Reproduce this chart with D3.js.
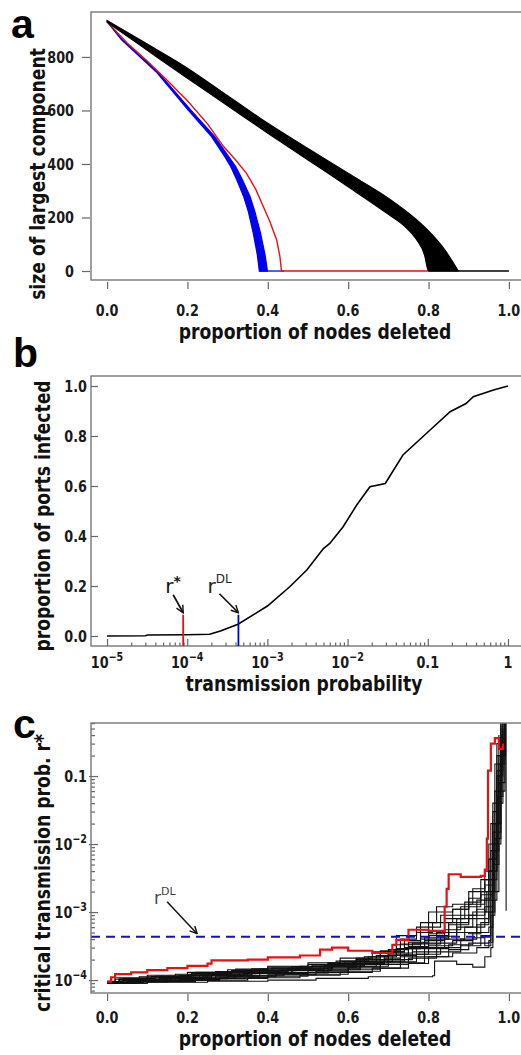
<!doctype html>
<html lang="en">
<head>
<meta charset="utf-8">
<title>Network robustness panels</title>
<script src="https://cdn.jsdelivr.net/npm/d3@7"></script>
<style>
  body { margin: 0; background: #fff; }
  text { font-family: "DejaVu Sans", sans-serif; }
  .tl { font-size: 16px; font-weight: bold; fill: #1a1a1a; }
  .title { font-size: 21.5px; font-weight: bold; fill: #111; }
  .letter { font-family: "Liberation Sans", sans-serif; font-size: 41px; font-weight: bold; fill: #000; }
  .tick line { stroke: #666; stroke-width: 1.2; }
</style>
</head>
<body>
<svg id="fig" width="521" height="1055"></svg>
<script>
// ---- panel a: size of largest component vs proportion deleted ----
var blackX     = [0, 0.1, 0.2, 0.3, 0.4, 0.5, 0.6, 0.7, 0.74, 0.77, 0.79, 0.8, 0.84, 0.874];
var blackUpper = [936, 848, 758, 655, 552, 458, 365, 272, 228, 192, 165, 150, 80, 0];
var blackLower = [930, 825, 720, 618, 515, 415, 315, 212, 168, 118, 60, 0, 0, 0];
var blackTail  = [[0.8, 0], [1.0, 0]];

var blueVal   = [932, 864, 745, 600, 502, 427, 390, 340, 278, 220, 141, 60, 0];
var blueLeft  = [0, 0.036, 0.122, 0.203, 0.260, 0.293, 0.308, 0.323, 0.340, 0.352, 0.364, 0.374, 0.379];
var blueRight = [0, 0.038, 0.126, 0.209, 0.268, 0.303, 0.320, 0.337, 0.356, 0.368, 0.382, 0.393, 0.399];
var blueTail  = [[0.379, 0], [0.44, 0]];

var redAx = [0, 0.05, 0.1, 0.15, 0.2, 0.25, 0.29, 0.32, 0.347, 0.37, 0.389, 0.405, 0.422, 0.43, 0.434, 0.8];
var redAy = [932, 852, 785, 712, 636, 550, 465, 415, 365, 305, 240, 185, 116, 55, 0, 0];

var aTicksX = [0, 0.2, 0.4, 0.6, 0.8, 1.0];
var aTicksY = [0, 200, 400, 600, 800];

// ---- panel b: proportion of ports infected vs transmission probability ----
var transProb = [1e-5, 3e-5, 3.2e-5, 1e-4, 1.9e-4, 2.6e-4, 4.3e-4, 1e-3, 1.9e-3, 3.1e-3, 5e-3, 6e-3, 8.8e-3, 1.3e-2, 1.9e-2, 2.95e-2, 4.9e-2, 0.107, 0.19, 0.30, 0.37, 0.66, 1];
var infected  = [0, 0.001, 0.004, 0.005, 0.007, 0.02, 0.047, 0.12, 0.197, 0.264, 0.35, 0.37, 0.437, 0.524, 0.597, 0.61, 0.724, 0.824, 0.897, 0.93, 0.957, 0.984, 1.0];
var rStar = 8.9e-5;
var rDL = 4.35e-4;
var markTop = 0.085;
var bTicksX = [1e-5, 1e-4, 1e-3, 1e-2, 0.1, 1];
var bLabelsX = [["10", "\u22125"], ["10", "\u22124"], ["10", "\u22123"], ["10", "\u22122"], ["0.1", ""], ["1", ""]];
var bTicksY = [0, 0.2, 0.4, 0.6, 0.8, 1.0];

// ---- panel c: critical transmission probability vs proportion deleted ----
var cBlack = [
  [[0,9.0e-5],[0.05,9.5e-5],[0.12,1.0e-4],[0.2,1.05e-4],[0.3,1.12e-4],[0.42,1.2e-4],[0.5,1.3e-4],[0.6,1.45e-4],[0.68,1.7e-4],[0.75,2.1e-4],[0.82,2.6e-4],[0.88,3.2e-4],[0.93,4.5e-4],[0.955,2e-3],[0.965,2e-2],[0.975,0.15],[0.985,0.7]],
  [[0,9.2e-5],[0.08,1.0e-4],[0.15,1.1e-4],[0.25,1.2e-4],[0.35,1.35e-4],[0.45,1.5e-4],[0.55,1.75e-4],[0.62,2.0e-4],[0.7,2.5e-4],[0.76,3.5e-4],[0.82,5e-4],[0.87,8e-4],[0.92,1.5e-3],[0.95,4e-3],[0.97,5e-2],[0.98,0.3],[0.99,0.7]],
  [[0,9.0e-5],[0.1,9.3e-5],[0.25,9.6e-5],[0.4,1.0e-4],[0.52,1.06e-4],[0.65,1.12e-4],[0.81,1.16e-4],[0.815,1.9e-4],[0.87,1.7e-4],[0.91,1.55e-4],[0.94,2.2e-4],[0.955,3e-4],[0.96,5e-3],[0.975,0.1],[0.985,0.6]],
  [[0,9.5e-5],[0.04,1.05e-4],[0.12,1.15e-4],[0.22,1.3e-4],[0.32,1.45e-4],[0.4,1.6e-4],[0.5,1.8e-4],[0.58,2.1e-4],[0.66,2.6e-4],[0.72,3.3e-4],[0.78,5.5e-4],[0.8,1.0e-3],[0.86,1.1e-3],[0.9,1.3e-3],[0.94,2.5e-3],[0.96,3e-2],[0.97,0.3],[0.98,0.7]],
  [[0,9.1e-5],[0.06,9.8e-5],[0.14,1.05e-4],[0.24,1.15e-4],[0.34,1.25e-4],[0.46,1.4e-4],[0.56,1.6e-4],[0.64,1.85e-4],[0.71,2.3e-4],[0.77,3e-4],[0.84,4e-4],[0.89,6e-4],[0.94,1.2e-3],[0.96,8e-3],[0.975,0.08],[0.99,0.4]],
  [[0,9.3e-5],[0.03,1.02e-4],[0.1,1.1e-4],[0.2,1.2e-4],[0.3,1.3e-4],[0.38,1.45e-4],[0.48,1.6e-4],[0.57,1.9e-4],[0.65,2.2e-4],[0.72,2.9e-4],[0.78,4e-4],[0.85,7e-4],[0.9,2e-3],[0.94,3e-3],[0.96,1.5e-2],[0.98,0.2],[0.99,0.7]],
  [[0,9.0e-5],[0.07,9.6e-5],[0.18,1.02e-4],[0.28,1.1e-4],[0.4,1.2e-4],[0.52,1.35e-4],[0.6,1.55e-4],[0.68,1.9e-4],[0.74,2.4e-4],[0.8,3.2e-4],[0.86,3.8e-4],[0.91,5e-4],[0.95,6e-4],[0.96,1e-2],[0.97,0.12],[0.985,0.5]],
  [[0,9.4e-5],[0.05,1.0e-4],[0.13,1.08e-4],[0.23,1.18e-4],[0.33,1.3e-4],[0.43,1.42e-4],[0.53,1.6e-4],[0.61,1.8e-4],[0.69,2.1e-4],[0.73,4e-4],[0.77,6e-4],[0.83,9e-4],[0.88,1.2e-3],[0.93,2e-3],[0.95,6e-3],[0.965,6e-2],[0.98,0.4]],
  [[0,9.2e-5],[0.09,1.0e-4],[0.19,1.08e-4],[0.3,1.18e-4],[0.42,1.3e-4],[0.54,1.5e-4],[0.63,1.7e-4],[0.7,2e-4],[0.76,2.6e-4],[0.82,3.5e-4],[0.87,5e-4],[0.92,8e-4],[0.95,1.5e-3],[0.97,2e-2],[0.98,0.2],[0.99,0.7],[0.993,1.05e-3]],
  [[0,9.6e-5],[0.02,1.08e-4],[0.1,1.18e-4],[0.2,1.3e-4],[0.3,1.42e-4],[0.4,1.55e-4],[0.5,1.7e-4],[0.58,1.9e-4],[0.64,2.2e-4],[0.7,2.8e-4],[0.75,3.6e-4],[0.8,4.5e-4],[0.85,5e-4],[0.9,4.8e-4],[0.93,7e-4],[0.95,3e-3],[0.97,0.1],[0.98,0.6]],
  [[0,9.0e-5],[0.1,9.5e-5],[0.22,1.0e-4],[0.35,1.08e-4],[0.48,1.18e-4],[0.58,1.3e-4],[0.66,1.5e-4],[0.73,1.8e-4],[0.79,2.2e-4],[0.85,2.8e-4],[0.9,3.5e-4],[0.95,3.8e-4],[0.955,4e-3],[0.97,4e-2],[0.985,0.3]],
  [[0,9.3e-5],[0.06,1.0e-4],[0.16,1.12e-4],[0.26,1.24e-4],[0.37,1.38e-4],[0.47,1.52e-4],[0.56,1.7e-4],[0.63,2.0e-4],[0.7,2.6e-4],[0.74,3e-4],[0.79,3.8e-4],[0.84,5.5e-4],[0.88,9e-4],[0.92,1.1e-3],[0.94,1e-3],[0.96,2e-2],[0.975,0.2],[0.99,0.6]],
  [[0,9.5e-5],[0.03,1.04e-4],[0.11,1.13e-4],[0.21,1.25e-4],[0.31,1.38e-4],[0.41,1.5e-4],[0.51,1.65e-4],[0.59,1.85e-4],[0.67,2.3e-4],[0.72,4.5e-4],[0.77,5e-4],[0.81,7e-4],[0.86,1.1e-3],[0.9,1.6e-3],[0.93,3e-3],[0.95,1e-2],[0.965,0.15],[0.98,0.5]],
  [[0,9.1e-5],[0.08,9.7e-5],[0.17,1.05e-4],[0.27,1.14e-4],[0.38,1.25e-4],[0.5,1.4e-4],[0.6,1.6e-4],[0.67,1.8e-4],[0.73,2.2e-4],[0.79,2.9e-4],[0.85,3.3e-4],[0.91,4.2e-4],[0.94,3.2e-4],[0.955,9e-4],[0.965,1e-2],[0.98,0.25]],
  [[0,9.2e-5],[0.04,9.9e-5],[0.13,1.06e-4],[0.24,1.16e-4],[0.36,1.28e-4],[0.46,1.38e-4],[0.55,1.55e-4],[0.62,1.75e-4],[0.69,2.3e-4],[0.75,3.1e-4],[0.8,4.8e-4],[0.84,8e-4],[0.89,1.4e-3],[0.93,1.8e-3],[0.96,6e-3],[0.97,0.05],[0.985,0.45]],
  [[0,9.0e-5],[0.05,9.4e-5],[0.15,9.9e-5],[0.28,1.06e-4],[0.4,1.14e-4],[0.5,1.22e-4],[0.6,1.35e-4],[0.68,1.5e-4],[0.75,1.75e-4],[0.8,2.2e-4],[0.86,2.5e-4],[0.92,3e-4],[0.95,3.6e-4],[0.96,2e-3],[0.975,6e-2],[0.99,0.5]],
  [[0,9.4e-5],[0.03,1.0e-4],[0.1,1.07e-4],[0.18,1.17e-4],[0.28,1.27e-4],[0.38,1.37e-4],[0.47,1.47e-4],[0.56,1.65e-4],[0.64,2.0e-4],[0.7,2.4e-4],[0.75,2.9e-4],[0.79,3.4e-4],[0.83,4.4e-4],[0.87,6e-4],[0.91,1e-3],[0.945,2e-3],[0.96,4e-2],[0.975,0.4]],
  [[0,9.1e-5],[0.07,9.8e-5],[0.16,1.08e-4],[0.26,1.2e-4],[0.36,1.32e-4],[0.45,1.45e-4],[0.54,1.62e-4],[0.62,1.9e-4],[0.68,2.6e-4],[0.74,3.8e-4],[0.78,7e-4],[0.82,1.2e-3],[0.86,1.3e-3],[0.91,2.2e-3],[0.94,4e-3],[0.955,2e-2],[0.97,0.2],[0.985,0.7]],
  [[0,9.3e-5],[0.09,9.9e-5],[0.2,1.07e-4],[0.32,1.16e-4],[0.44,1.27e-4],[0.55,1.42e-4],[0.63,1.6e-4],[0.7,1.85e-4],[0.77,2.4e-4],[0.83,3e-4],[0.88,4e-4],[0.92,6.5e-4],[0.95,1e-3],[0.965,1.2e-2],[0.98,0.15],[0.99,0.6]],
  [[0,9.2e-5],[0.02,1.03e-4],[0.08,1.12e-4],[0.17,1.22e-4],[0.27,1.34e-4],[0.36,1.46e-4],[0.46,1.58e-4],[0.55,1.8e-4],[0.62,2.1e-4],[0.68,2.7e-4],[0.73,3.4e-4],[0.79,4.2e-4],[0.85,6.5e-4],[0.9,9e-4],[0.94,1.6e-3],[0.955,8e-3],[0.97,0.1],[0.98,0.55]]
];
var cRed = [[0,9.5e-5],[0.01,1.1e-4],[0.02,1.22e-4],[0.06,1.3e-4],[0.1,1.4e-4],[0.15,1.5e-4],[0.2,1.62e-4],[0.25,1.75e-4],[0.26,1.95e-4],[0.35,2.0e-4],[0.4,2.15e-4],[0.48,2.3e-4],[0.53,2.8e-4],[0.56,3.0e-4],[0.6,2.7e-4],[0.66,2.5e-4],[0.71,3.3e-4],[0.72,3.9e-4],[0.75,5.5e-4],[0.8,5.3e-4],[0.835,5.2e-4],[0.84,1.2e-3],[0.845,2.2e-3],[0.85,3.6e-3],[0.88,3.3e-3],[0.93,3.4e-3],[0.94,4.2e-3],[0.945,1.2e-2],[0.948,0.12],[0.955,0.3],[0.965,0.36],[0.975,0.25],[0.985,0.3]];
var cTicksX = [0, 0.2, 0.4, 0.6, 0.8, 1.0];
var cTicksY = [1e-4, 1e-3, 1e-2, 0.1];
var cLabelsY = [["10", "\u22124"], ["10", "\u22123"], ["10", "\u22122"], ["0.1", ""]];

var SQ = 0.8; // the figure uses a narrow face; squeeze text horizontally

var svg = d3.select("#fig");

var defs = svg.append("defs");
defs.append("marker").attr("id", "ah").attr("viewBox", "0 0 10 10")
  .attr("refX", 9).attr("refY", 5).attr("markerWidth", 9).attr("markerHeight", 9)
  .attr("markerUnits", "userSpaceOnUse").attr("orient", "auto")
  .append("path").attr("d", "M1,1 L9,5 L1,9").attr("fill", "none")
  .attr("stroke", "#111").attr("stroke-width", 1.6);

function box(x0, y0, x1, y1) {
  svg.append("rect").attr("x", x0).attr("y", y0).attr("width", x1 - x0).attr("height", y1 - y0)
    .attr("fill", "none").attr("stroke", "#777").attr("stroke-width", 1.4);
}
function noDomain(g) { g.select(".domain").remove(); }
function at(x, y, rot) {
  return "translate(" + x + "," + y + ")" + (rot ? " rotate(" + rot + ")" : "") + " scale(" + SQ + ",1)";
}
function supLabel(sel, parts) {
  sel.append("tspan").text(parts[0]);
  if (parts[1]) sel.append("tspan").attr("dy", -7).attr("font-size", "12px").text(parts[1]);
}
function title(x, y, rot, s) {
  svg.append("text").attr("class", "title").attr("transform", at(x, y, rot))
    .attr("text-anchor", "middle").text(s);
}

// ================= panel a =================
var xa = d3.scaleLinear().domain([-0.04, 1.04]).range([91, 525]);
var ya = d3.scaleLinear().domain([-33.6, 968]).range([280, 12]);
box(91, 12, 525, 280);

svg.append("g").attr("transform", "translate(0,282)")
  .call(d3.axisBottom(xa).tickValues(aTicksX).tickSize(7).tickFormat("")).call(noDomain);
svg.append("g").attr("transform", "translate(90,0)")
  .call(d3.axisLeft(ya).tickValues(aTicksY).tickSize(8).tickFormat("")).call(noDomain);
svg.selectAll(".axa").data(aTicksX).enter().append("text").attr("class", "tl")
  .attr("transform", d => at(xa(d), 316)).attr("text-anchor", "middle").text(d => d3.format(".1f")(d));
svg.selectAll(".aya").data(aTicksY).enter().append("text").attr("class", "tl")
  .attr("transform", d => at(74, ya(d) + 5.8)).attr("text-anchor", "end").text(d => d);

svg.append("path")
  .attr("d", d3.area().y((d, i) => ya(blueVal[i])).x0((d, i) => xa(blueLeft[i])).x1((d, i) => xa(blueRight[i]))(blueVal))
  .attr("fill", "#0000ee").attr("stroke", "#0000ee").attr("stroke-width", 1.3);
svg.append("path").attr("d", d3.line().x(d => xa(d[0])).y(d => ya(d[1]))(blueTail))
  .attr("fill", "none").attr("stroke", "#0000ee").attr("stroke-width", 1.3);
svg.append("path").attr("d", d3.line().x((d, i) => xa(redAx[i])).y(d => ya(d))(redAy))
  .attr("fill", "none").attr("stroke", "#e81010").attr("stroke-width", 1.4);
svg.append("path")
  .attr("d", d3.area().curve(d3.curveMonotoneX).x((d, i) => xa(blackX[i])).y0((d, i) => ya(blackLower[i])).y1((d, i) => ya(blackUpper[i]))(blackX))
  .attr("fill", "#000").attr("stroke", "#000").attr("stroke-width", 1.2);
svg.append("path").attr("d", d3.line().x(d => xa(d[0])).y(d => ya(d[1]))(blackTail))
  .attr("fill", "none").attr("stroke", "#000").attr("stroke-width", 1.3);

title(315, 339, 0, "proportion of nodes deleted");
title(45, 174, -90, "size of largest component");
svg.append("text").attr("class", "letter").attr("x", 11).attr("y", 38).text("a");

// ================= panel b =================
var xb = d3.scaleLog().domain([Math.pow(10, -5.2), Math.pow(10, 0.2)]).range([91, 524]);
var yb = d3.scaleLinear().domain([-0.04, 1.04]).range([646, 376]);
box(91, 376, 525, 646);

var bMinor = xb.ticks().filter(t => bTicksX.indexOf(t) < 0 && t > 1e-5 && t < 1);
svg.append("g").attr("transform", "translate(0,646)")
  .call(d3.axisBottom(xb).tickValues(bTicksX).tickSize(-7).tickFormat("")).call(noDomain);
svg.append("g").attr("transform", "translate(0,646)")
  .call(d3.axisBottom(xb).tickValues(bMinor).tickSize(-3.5).tickFormat("")).call(noDomain);
svg.append("g").attr("transform", "translate(91,0)")
  .call(d3.axisLeft(yb).tickValues(bTicksY).tickSize(-7).tickFormat("")).call(noDomain);
svg.selectAll(".bxa").data(bTicksX).enter().append("text").attr("class", "tl")
  .attr("transform", d => at(xb(d), 668)).attr("text-anchor", "middle")
  .each(function (d, i) { supLabel(d3.select(this), bLabelsX[i]); });
svg.selectAll(".bya").data(bTicksY).enter().append("text").attr("class", "tl")
  .attr("transform", d => at(87, yb(d) + 5.8)).attr("text-anchor", "end").text(d => d3.format(".1f")(d));

svg.append("path").attr("d", d3.line().x((d, i) => xb(transProb[i])).y(d => yb(d))(infected))
  .attr("fill", "none").attr("stroke", "#000").attr("stroke-width", 1.6);
svg.append("line").attr("x1", xb(rStar)).attr("x2", xb(rStar)).attr("y1", yb(-0.04)).attr("y2", yb(markTop))
  .attr("stroke", "#e81010").attr("stroke-width", 1.8);
svg.append("line").attr("x1", xb(rDL)).attr("x2", xb(rDL)).attr("y1", yb(-0.04)).attr("y2", yb(markTop))
  .attr("stroke", "#0000dd").attr("stroke-width", 1.8);

function arrow(hx, hy, dx, dy, w) {
  svg.append("line").attr("x1", hx + dx).attr("y1", hy + dy).attr("x2", hx).attr("y2", hy)
    .attr("stroke", "#111").attr("stroke-width", w).attr("marker-end", "url(#ah)");
}
var hsx = xb(rStar), hsy = yb(markTop) - 2;
arrow(hsx, hsy, -10, -18, 1.7);
var t1 = svg.append("text").attr("x", hsx - 18).attr("y", hsy - 20).attr("font-size", "20px").attr("fill", "#111");
t1.append("tspan").text("r");
t1.append("tspan").attr("dy", -7).attr("font-size", "14px").attr("font-weight", "bold").text("*");
var hdx = xb(rDL), hdy = yb(markTop) - 2;
arrow(hdx, hdy, -19, -19, 1.7);
var t2 = svg.append("text").attr("x", hdx - 31).attr("y", hdy - 20).attr("font-size", "20px").attr("fill", "#222");
t2.append("tspan").text("r");
t2.append("tspan").attr("dy", -10).attr("font-size", "12px").text("DL");

title(304, 691, 0, "transmission probability");
title(50, 516, -90, "proportion of ports infected");
svg.append("text").attr("class", "letter").attr("x", 13).attr("y", 367).text("b");

// ================= panel c =================
var xc = d3.scaleLinear().domain([-0.04, 1.04]).range([91, 525]);
var yc = d3.scaleLog().domain([Math.pow(10, -4.19), Math.pow(10, -0.22)]).range([993, 723]);

defs.append("clipPath").attr("id", "clipc").append("rect")
  .attr("x", 91).attr("y", 723).attr("width", 434).attr("height", 270);

var cMinor = yc.ticks().filter(t => cTicksY.indexOf(t) < 0);
svg.append("g").attr("transform", "translate(0,994)")
  .call(d3.axisBottom(xc).tickValues(cTicksX).tickSize(7).tickFormat("")).call(noDomain);
svg.append("g").attr("transform", "translate(89,0)")
  .call(d3.axisLeft(yc).tickValues(cTicksY).tickSize(-9).tickFormat("")).call(noDomain);
svg.append("g").attr("transform", "translate(91,0)")
  .call(d3.axisLeft(yc).tickValues(cMinor).tickSize(-4).tickFormat("")).call(noDomain);
svg.selectAll(".cxa").data(cTicksX).enter().append("text").attr("class", "tl")
  .attr("transform", d => at(xc(d), 1023)).attr("text-anchor", "middle").text(d => d3.format(".1f")(d));
svg.selectAll(".cya").data(cTicksY).enter().append("text").attr("class", "tl")
  .attr("transform", d => at(87, yc(d) + 5.8)).attr("text-anchor", "end")
  .each(function (d, i) { supLabel(d3.select(this), cLabelsY[i]); });

var stepLine = d3.line().curve(d3.curveStepAfter).x(d => xc(d[0])).y(d => yc(d[1]));
var gc = svg.append("g").attr("clip-path", "url(#clipc)");
gc.selectAll(".blk").data(cBlack).enter().append("path").attr("d", stepLine)
  .attr("fill", "none").attr("stroke", "#111").attr("stroke-width", 1.1);
gc.append("path").attr("d", stepLine(cRed))
  .attr("fill", "none").attr("stroke", "#e81010").attr("stroke-width", 2.2);
gc.append("line").attr("x1", xc(-0.04)).attr("x2", xc(1.04)).attr("y1", yc(rDL)).attr("y2", yc(rDL))
  .attr("stroke", "#1010cc").attr("stroke-width", 2).attr("stroke-dasharray", "9,6");
box(91, 723, 525, 993);

var hcx = xc(0.224), hcy = yc(rDL) - 3;
arrow(hcx, hcy, -30, -32, 1.5);
var t3 = svg.append("text").attr("x", hcx - 43).attr("y", hcy - 30).attr("font-size", "17px").attr("fill", "#444");
t3.append("tspan").text("r");
t3.append("tspan").attr("dy", -9).attr("font-size", "11px").text("DL");

title(315, 1046, 0, "proportion of nodes deleted");
title(50, 873, -90, "critical transmission prob. r*");
svg.append("text").attr("class", "letter").attr("x", 13).attr("y", 738).text("c");
</script>
</body>
</html>
